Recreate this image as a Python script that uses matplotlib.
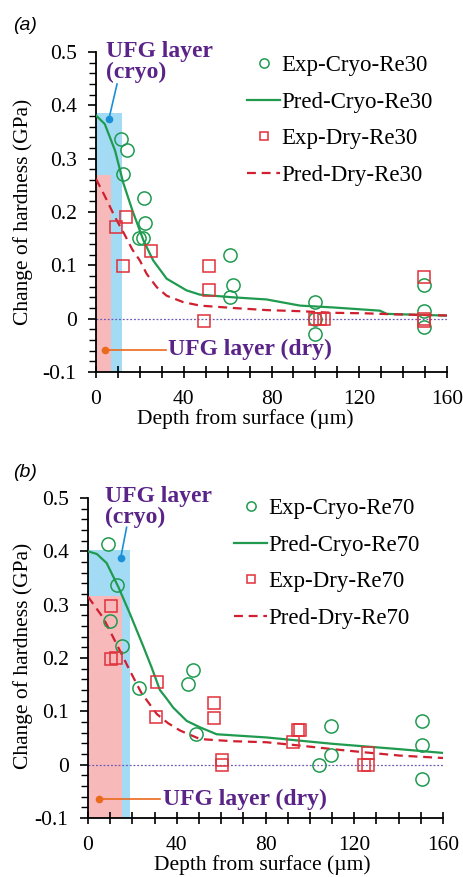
import matplotlib
matplotlib.use("Agg")
import matplotlib.pyplot as plt
from matplotlib.ticker import MultipleLocator, FuncFormatter

plt.rcParams['font.family'] = ['Liberation Serif', 'DejaVu Serif']

# ---- (a) Re30 ----
exp_cryo_a_x = [11.4, 14.3, 12.5, 21.9, 22.4, 19.8, 21.3, 61, 62.4, 61, 100, 100, 100, 149.5, 149.5, 149.5]
exp_cryo_a_y = [0.337, 0.317, 0.272, 0.227, 0.18, 0.152, 0.152, 0.12, 0.063, 0.04, 0.031, 0.0, -0.029, 0.064, 0.015, -0.015]
exp_dry_a_x = [9.1, 13.7, 12.5, 25, 51.7, 51.7, 49.3, 100, 102, 104, 149.7, 149.7, 149.7]
exp_dry_a_y = [0.171, 0.19, 0.098, 0.126, 0.098, 0.053, -0.004, 0.0, 0.0, 0.0, 0.078, 0.0, -0.005]
pred_cryo_a_x = [0, 4, 8.7, 12.4, 16.5, 21.6, 26.1, 32.2, 41.3, 47.4, 62.6, 77.8, 93, 108.2, 129.4, 132.5, 160]
pred_cryo_a_y = [0.381, 0.365, 0.315, 0.255, 0.204, 0.147, 0.109, 0.075, 0.053, 0.045, 0.040, 0.036, 0.0245, 0.021, 0.015, 0.009, 0.0057]
pred_dry_a_x = [0, 4, 8.7, 13, 16.5, 20, 23.1, 27.7, 32.2, 39.8, 47.4, 62.6, 78, 93, 108, 123, 137, 160]
pred_dry_a_y = [0.262, 0.23, 0.19, 0.158, 0.13, 0.109, 0.084, 0.059, 0.043, 0.031, 0.0245, 0.020, 0.016, 0.014, 0.011, 0.01, 0.008, 0.006]
ufg_cryo_a = (12.0, 0.385)   # depth, height of shaded band
ufg_dry_a = (6.7, 0.27)

# ---- (b) Re70 ----
exp_cryo_b_x = [9.1, 13.2, 9.9, 15.2, 23.1, 45.2, 47.2, 48.5, 104.2, 109.3, 109.3, 150.4, 150.4, 150.4]
exp_cryo_b_y = [0.413, 0.337, 0.27, 0.222, 0.144, 0.152, 0.178, 0.058, 0.0, 0.072, 0.018, 0.081, 0.037, -0.026]
exp_dry_b_x = [10.2, 10.3, 12.8, 31.2, 30.6, 56.8, 56.8, 60.2, 60.2, 92.3, 94.5, 95.5, 124.5, 126, 126]
exp_dry_b_y = [0.298, 0.198, 0.2, 0.155, 0.09, 0.116, 0.088, 0.009, 0.0, 0.043, 0.065, 0.065, 0.0, 0.0, 0.021]
pred_cryo_b_x = [0, 4, 8.4, 13.7, 18.9, 24.9, 28.7, 32.4, 35.4, 38.4, 44.5, 50.5, 58, 80.5, 110.5, 140.6, 160]
pred_cryo_b_y = [0.40, 0.395, 0.378, 0.333, 0.283, 0.222, 0.182, 0.14, 0.124, 0.107, 0.082, 0.07, 0.057, 0.051, 0.039, 0.029, 0.022]
pred_dry_b_x = [0, 6.9, 12.9, 18.9, 24, 31, 36, 41.5, 50.5, 65, 80.5, 95, 110.5, 125, 140.6, 160]
pred_dry_b_y = [0.315, 0.275, 0.226, 0.176, 0.135, 0.095, 0.078, 0.064, 0.048, 0.044, 0.042, 0.036, 0.029, 0.023, 0.017, 0.0125]
ufg_cryo_b = (18.9, 0.403)
ufg_dry_b = (15.2, 0.316)

GREEN = '#1f9a4f'
RED = '#e0303a'
DRED = '#d01f2e'
BLUE_FILL = '#a3dbf4'
PINK_FILL = '#f8b9bb'
PURPLE = '#5a2388'

W, H = 463, 877
fig = plt.figure(figsize=(W / 100, H / 100), dpi=100)


def fx(px):
    return px / W


def fy(py):
    return 1 - py / H


def panel(rect, tag, tag_xy, re, cx, cy, dx, dy, pcx, pcy, pdx, pdy, band_c, band_d,
          cryo_arrow, dry_arrow, cryo_txt, dry_txt, leg_xy, xlab_xy, ylab_xy):
    ax = fig.add_axes(rect)
    ax.set_xlim(0, 160)
    ax.set_ylim(-0.1, 0.5)

    # UFG layer bands
    ax.bar(0, band_c[1] + 0.1, width=band_c[0], bottom=-0.1, align='edge',
           color=BLUE_FILL, zorder=1)
    ax.bar(0, band_d[1] + 0.1, width=band_d[0], bottom=-0.1, align='edge',
           color=PINK_FILL, zorder=1.1)

    ax.axhline(0, color='#6a5bb5', lw=0.9, ls=(0, (1.5, 1.5)), zorder=1.5)

    ax.plot(cx, cy, ls='none', marker='o', ms=9.5, mfc='none', mec=GREEN, mew=1.1,
            label=f'Exp-Cryo-{re}', zorder=4)
    ax.plot(pcx, pcy, color=GREEN, lw=1.6, label=f'Pred-Cryo-{re}', zorder=3)
    ax.plot(dx, dy, ls='none', marker='s', ms=8.5, mfc='none', mec=RED, mew=1.1,
            label=f'Exp-Dry-{re}', zorder=4)
    ax.plot(pdx, pdy, color=DRED, lw=1.6, ls=(0, (4, 2.6)), label=f'Pred-Dry-{re}', zorder=3)

    # callouts
    (ax0, ay0), (ax1, ay1) = cryo_arrow
    ax.plot([ax0, ax1], [ay0, ay1], color='#1b8fd6', lw=1.2, zorder=5)
    ax.plot([ax0], [ay0], 'o', color='#1b8fd6', ms=4.5, zorder=5)
    (bx0, by0), (bx1, by1) = dry_arrow
    ax.plot([bx0, bx1], [by0, by1], color='#ea6a1c', lw=1.2, zorder=5)
    ax.plot([bx0], [by0], 'o', color='#ea6a1c', ms=4.5, zorder=5)
    ax.text(*cryo_txt, 'UFG layer\n(cryo)', color=PURPLE, fontsize=17, fontweight='bold',
            ha='left', va='top', linespacing=0.95, zorder=6)
    ax.text(*dry_txt, 'UFG layer (dry)', color=PURPLE, fontsize=17, fontweight='bold',
            ha='left', va='center', zorder=6)

    for s in ('top', 'right'):
        ax.spines[s].set_visible(False)
    for s in ('left', 'bottom'):
        ax.spines[s].set_linewidth(1.3)
    ax.xaxis.set_major_locator(MultipleLocator(40))
    ax.xaxis.set_minor_locator(MultipleLocator(10))
    ax.yaxis.set_major_locator(MultipleLocator(0.1))
    ax.yaxis.set_minor_locator(MultipleLocator(0.02))
    ax.yaxis.set_major_formatter(FuncFormatter(lambda v, p: '%g' % round(v, 2)))
    ax.tick_params(axis='x', which='both', direction='inout', length=8, width=1.2,
                   labelsize=15.5, pad=9)
    ax.tick_params(axis='y', which='major', direction='out', length=6, width=1.2,
                   labelsize=15.5, pad=8)
    ax.tick_params(axis='y', which='minor', direction='out', length=5, width=1.0)

    ax.legend(loc='upper left', bbox_to_anchor=(fx(leg_xy[0]), fy(leg_xy[1])),
              bbox_transform=fig.transFigure, frameon=False, fontsize=16.5,
              handlelength=1.45, handletextpad=0.05, labelspacing=0.68,
              borderpad=0, borderaxespad=0, markerscale=0.7)

    fig.text(fx(tag_xy[0]), fy(tag_xy[1]), tag, fontsize=14, style='italic',
             family=['Liberation Sans', 'DejaVu Sans'], ha='center', va='center')
    fig.text(fx(xlab_xy[0]), fy(xlab_xy[1]), 'Depth from surface (\u00b5m)', fontsize=15.5,
             ha='center', va='center')
    fig.text(fx(ylab_xy[0]), fy(ylab_xy[1]), 'Change of hardness (GPa)', fontsize=15.5,
             rotation=90, ha='center', va='center')
    return ax


panel([fx(96), fy(372), fx(447 - 96), (372 - 52) / H], '(a)', (25, 25), 'Re30',
      exp_cryo_a_x, exp_cryo_a_y, exp_dry_a_x, exp_dry_a_y,
      pred_cryo_a_x, pred_cryo_a_y, pred_dry_a_x, pred_dry_a_y,
      ufg_cryo_a, ufg_dry_a,
      ((5.9, 0.375), (9.6, 0.44)), ((4.1, -0.058), (32, -0.058)),
      (4.5, 0.52), (33, -0.058),
      (247, 55), (245, 419), (23, 212))

panel([fx(88), fy(818), fx(443 - 88), (818 - 498) / H], '(b)', (25, 472), 'Re70',
      exp_cryo_b_x, exp_cryo_b_y, exp_dry_b_x, exp_dry_b_y,
      pred_cryo_b_x, pred_cryo_b_y, pred_dry_b_x, pred_dry_b_y,
      ufg_cryo_b, ufg_dry_b,
      ((14.7, 0.387), (17.4, 0.445)), ((5.0, -0.065), (32.4, -0.065)),
      (7.5, 0.522), (34, -0.065),
      (234, 498), (262, 865), (23, 656))

fig.savefig('out.png', dpi=100)
